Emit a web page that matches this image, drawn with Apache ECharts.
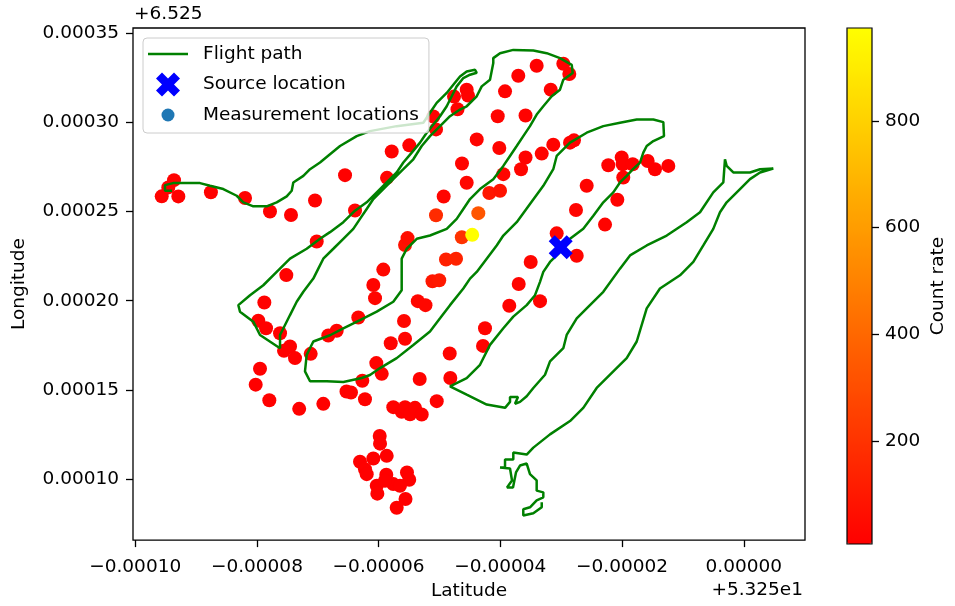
<!DOCTYPE html>
<html>
<head>
<meta charset="utf-8">
<script src="https://cdn.jsdelivr.net/npm/echarts@6/dist/echarts.min.js"></script>
<style>
  html, body { margin: 0; padding: 0; background: #ffffff; }
  #chart { width: 955px; height: 606px; }
</style>
</head>
<body>
<div id="chart"></div>
<script>
// Coordinates are stored in micro-degrees relative to the axis offsets
// (latitude 53.25, longitude 6.525), and converted to degrees below.
const LAT_OFFSET_TEXT = '+5.325e1';
const LON_OFFSET_TEXT = '+6.525';
const MICRO = 1e-6;

// Measurement locations
const measLat = [
  -95.64, -92.91, -93.62, -94.56, -87.56, -81.95, -77.85, -74.40, -70.45, -65.52,
  -70.17, -75.17, -63.88, -58.62, -57.85, -54.96, -50.57, -51.01, -47.04, -47.61,
  -45.53, -45.31, -46.30, -45.53, -49.31, -43.88, -50.57, -46.33, -44.62, -43.62,
  -55.66, -55.25, -59.23, -60.87, -48.93, -47.28, -51.15, -50.04, -37.05, -39.23,
  -40.43, -35.86, -40.17, -35.86, -36.60, -39.51, -41.81, -40.05, -36.98, -35.01,
  -34.03, -29.65, -28.67, -31.72, -33.20, -31.30, -28.55, -27.90, -22.26, -20.06,
  -19.89, -18.25, -15.79, -14.59, -12.40, -19.80, -25.81, -20.78, -27.57, -22.80,
  -30.74, -27.45, -33.48, -38.53, -42.52, -42.85, -48.32, -48.22, -53.25, -50.45,
  -78.78, -79.77, -78.50, -76.20, -74.56, -75.55, -73.74, -71.16, -79.49, -80.20,
  -77.96, -73.05, -69.09, -68.27, -66.89, -63.34, -60.59, -55.83, -53.56, -52.30,
  -58.01, -55.66, -60.38, -59.49, -62.68, -65.28, -64.54, -62.24, -57.59, -56.21,
  -55.66, -54.84, -54.02, -52.92, -59.82, -59.77, -60.87, -58.67, -63.06, -62.24,
  -61.96, -58.74, -55.34, -54.97, -60.31, -60.21, -57.59, -56.49, -55.58, -57.03,
  -58.95
];
const measLon = [
  258.54, 258.50, 267.63, 263.56, 260.82, 257.59, 250.06, 248.11, 256.20, 270.41,
  233.23, 214.38, 250.62, 268.91, 283.68, 287.14, 296.06, 303.31, 307.38, 314.46,
  318.36, 315.02, 276.94, 266.12, 258.43, 290.48, 247.94, 235.57, 236.96, 249.12,
  231.22, 235.12, 217.45, 208.80, 223.13, 223.58, 210.92, 211.48, 326.17, 317.41,
  303.48, 303.87, 285.63, 280.28, 273.76, 270.97, 260.38, 261.66, 209.36, 221.74,
  331.74, 332.86, 327.11, 318.36, 282.51, 287.53, 288.64, 289.93, 275.99, 280.28,
  276.55, 276.55, 278.39, 273.76, 275.60, 269.13, 264.45, 256.64, 250.90, 242.70,
  237.80, 225.25, 199.78, 197.21, 184.55, 174.68, 170.45, 156.67, 156.12, 143.69,
  199.05, 188.84, 184.55, 181.76, 174.35, 171.90, 167.83, 170.22, 161.86, 152.94,
  144.24, 139.39, 142.18, 180.48, 183.16, 190.57, 201.45, 188.62, 199.78, 197.54,
  176.19, 178.70, 165.04, 159.02, 155.17, 149.15, 148.59, 144.80, 140.34, 137.72,
  140.34, 136.32, 139.95, 136.21, 124.17, 119.88, 111.51, 113.02, 109.73, 105.55,
  102.76, 102.43, 103.71, 99.64, 96.29, 91.83, 97.19, 96.29, 88.82, 83.92,
  99.08
];
const countRate = [
  14, 11, 16, 12, 9, 13, 10, 8, 15, 12,
  18, 14, 22, 17, 13, 11, 19, 16, 14, 12,
  10, 13, 24, 28, 26, 21, 170, 200, 974, 330,
  70, 60, 35, 22, 130, 140, 90, 100, 12, 15,
  18, 16, 23, 20, 25, 27, 90, 80, 24, 30,
  9, 11, 10, 13, 21, 17, 15, 14, 12, 10,
  11, 9, 8, 7, 8, 13, 18, 16, 22, 19,
  26, 23, 17, 20, 22, 18, 21, 17, 15, 13,
  12, 10, 11, 13, 12, 14, 11, 16, 9, 8,
  10, 9, 11, 18, 17, 24, 26, 29, 31, 33,
  22, 25, 19, 20, 16, 14, 15, 13, 14, 12,
  15, 13, 16, 12, 11, 10, 9, 12, 8, 9,
  10, 11, 9, 10, 8, 9, 11, 10, 8, 9,
  10
];

// Flight path
const pathLat = [
  -93.95, -95.10, -95.10, -93.78, -92.14, -89.35, -87.70, -85.52, -83.32, -82.23,
  -80.59, -78.39, -76.75, -75.10, -74.28, -74.02, -72.37, -71.27, -69.63, -67.99,
  -66.34, -63.60, -61.42, -57.03, -52.66, -51.56, -50.46, -48.81, -47.73, -46.63,
  -45.53, -44.16, -43.88, -44.98, -46.08, -47.17, -47.99, -48.81, -49.91, -51.01,
  -52.10, -53.20, -54.56, -55.94, -57.03, -58.67, -60.31, -61.96, -63.88, -65.80,
  -67.99, -69.63, -71.82, -74.56, -76.75, -78.95, -81.13, -83.05, -82.78, -80.59,
  -79.49, -76.20, -76.20, -75.38, -74.56, -73.46, -72.37, -70.73, -69.91, -69.09,
  -67.44, -65.80, -64.16, -63.06, -61.96, -60.87, -59.23, -57.59, -55.94, -54.30,
  -52.92, -51.56, -49.91, -48.27, -46.63, -45.53, -43.88, -43.06, -41.70, -41.16,
  -41.16, -40.05, -37.87, -34.58, -32.38, -30.20, -28.27, -28.11, -29.65, -30.20,
  -31.56, -32.94, -34.03, -35.13, -36.23, -37.31, -38.41, -39.51, -41.16, -43.34,
  -44.98, -46.08, -47.17, -48.81, -51.56, -53.74, -55.38, -56.21, -56.21, -57.59,
  -60.31, -63.06, -65.80, -67.99, -70.73, -71.82, -72.10, -71.27, -68.53, -65.80,
  -62.78, -61.42, -59.77, -57.03, -54.30, -51.56, -49.91, -48.27, -46.08, -44.98,
  -43.88, -42.24, -40.60, -39.51, -37.31, -35.13, -32.94, -31.30, -30.74, -28.55,
  -25.81, -23.08, -20.34, -17.59, -14.86, -13.22, -13.11, -14.86, -15.95, -16.51,
  -17.05, -18.20, -19.24, -20.34, -21.44, -23.08, -24.72, -26.37, -28.55, -30.20,
  -31.84, -32.94, -33.48, -34.30, -35.67, -37.87, -39.51, -41.70, -43.34, -45.53,
  -48.27, -45.53, -42.24, -39.23, -38.41, -38.41, -37.10, -37.59, -36.77, -35.67,
  -34.58, -32.66, -31.84, -29.65, -29.10, -27.45, -25.81, -23.08, -20.34, -18.69,
  -15.95, -12.66, -9.38, -7.19, -5.01, -3.36, -3.09, -2.81, -1.72, 1.02,
  2.67, 4.85, 2.67, 1.02, -0.62, -2.81, -3.91, -5.01, -6.65, -8.29,
  -10.48, -13.77, -15.95, -17.59, -19.24, -21.44, -24.17, -26.37, -28.55, -31.84,
  -34.58, -35.67, -37.87, -37.87, -39.23, -39.23, -40.05, -38.41, -38.08, -38.90,
  -37.92, -37.43, -36.77, -35.67, -35.13, -34.03, -34.03, -32.94, -32.94, -34.03,
  -35.13, -36.23, -36.23, -34.58, -33.20, -33.20
];
const pathLon = [
  261.66, 261.66, 264.84, 265.95, 265.95, 265.95, 264.45, 262.61, 258.87, 255.19,
  252.96, 252.96, 255.19, 258.54, 261.66, 266.34, 270.02, 273.76, 277.49, 282.12,
  286.75, 292.32, 295.11, 297.90, 299.80, 305.37, 310.95, 316.52, 321.15, 325.78,
  328.56, 329.51, 327.84, 326.72, 324.88, 320.20, 314.63, 309.05, 303.48, 298.85,
  294.22, 288.64, 283.07, 277.49, 271.92, 266.34, 260.77, 255.19, 250.51, 244.04,
  238.47, 234.73, 229.15, 223.58, 216.16, 208.69, 203.12, 197.54, 193.86, 188.29,
  180.82, 173.40, 180.82, 186.39, 191.97, 199.44, 205.01, 212.43, 218.00, 223.58,
  229.15, 234.73, 240.31, 245.88, 251.46, 257.03, 262.61, 268.18, 273.76, 279.33,
  286.75, 292.32, 297.90, 303.48, 307.21, 309.05, 314.63, 320.20, 323.94, 333.25,
  336.04, 338.82, 340.66, 340.27, 338.82, 336.04, 332.30, 327.67, 323.94, 318.36,
  314.63, 309.05, 304.42, 297.90, 292.32, 286.75, 281.17, 275.60, 268.18, 262.61,
  257.03, 251.46, 245.88, 240.31, 236.57, 234.73, 229.15, 223.58, 205.91, 199.44,
  193.86, 189.18, 184.55, 180.65, 177.14, 169.67, 160.41, 154.84, 154.84, 154.44,
  156.67, 158.35, 162.25, 167.83, 175.24, 182.71, 190.13, 197.54, 206.85, 212.43,
  216.16, 223.58, 231.00, 236.57, 244.04, 254.24, 264.45, 273.76, 281.17, 288.64,
  294.22, 297.90, 299.80, 301.64, 301.64, 300.13, 292.32, 289.54, 286.75, 283.07,
  277.49, 273.76, 270.02, 266.34, 260.77, 255.19, 247.72, 240.31, 234.73, 227.32,
  221.74, 216.16, 210.59, 203.12, 197.54, 191.07, 184.55, 175.24, 164.09, 156.67,
  152.05, 147.36, 141.79, 139.95, 143.29, 146.08, 146.08, 142.18, 143.29, 146.47,
  151.10, 158.52, 165.98, 173.40, 180.82, 190.13, 195.70, 205.01, 218.00, 225.42,
  231.00, 236.57, 244.04, 249.62, 260.77, 266.34, 279.33, 275.60, 271.92, 271.92,
  273.76, 274.15, 271.92, 268.18, 262.61, 255.19, 249.62, 240.31, 231.00, 221.74,
  214.27, 206.85, 195.70, 177.14, 167.83, 160.41, 151.10, 139.95, 132.53, 125.06,
  117.65, 113.74, 114.86, 110.96, 110.96, 106.50, 106.50, 105.94, 99.25, 95.35,
  95.35, 103.71, 107.61, 108.73, 102.76, 99.25, 93.51, 92.56, 89.77, 88.10,
  84.19, 83.08, 79.57, 80.85, 84.19, 86.98
];

// Source location
const sourceLat = [-30.08];
const sourceLon = [229.99];

// Tick positions
const latTicks = [-100, -80, -60, -40, -20, 0];
const lonTicks = [100, 150, 200, 250, 300, 350];
const rateTicks = [200, 400, 600, 800];

// Visible axis extents (micro-degrees)
const latRange = [-100.36, 10.06];
const lonRange = [65.79, 352.93];

const FONT = 'DejaVu Sans';
const FS = 18.5;
const toDeg = v => v * MICRO;
const tickText = v => v.toFixed(5).replace('-', '\u2212');

const measData = measLat.map((v, i) => [toDeg(v), toDeg(measLon[i]), countRate[i]]);
const pathData = pathLat.map((v, i) => [toDeg(v), toDeg(pathLon[i])]);
const sourceData = sourceLat.map((v, i) => [toDeg(v), toDeg(sourceLon[i])]);
const rateMin = Math.min(...countRate);
const rateMax = Math.max(...countRate);

// Legend / marker glyphs
const X_MARK = 'path://M-1,-2L0,-1L1,-2L2,-1L1,0L2,1L1,2L0,1L-1,2L-2,1L-1,0L-2,-1Z';
const DOT_MARK = 'path://M0,0M24,24M18.5,12A6.5,6.5,0,1,1,5.5,12A6.5,6.5,0,1,1,18.5,12Z';
const LINE_MARK = 'path://M0,0M40,24M0,10.7L40,10.7L40,13.3L0,13.3Z';

const chart = echarts.init(document.getElementById('chart'), null, { renderer: 'canvas' });

const axisCommon = {
  axisLine: { show: false, onZero: false },
  splitLine: { show: false }
};

chart.setOption({
  animation: false,
  backgroundColor: '#ffffff',
  textStyle: { fontFamily: FONT },
  grid: [
    { left: 133, top: 28, width: 672, height: 515, show: true,
      borderColor: '#000000', borderWidth: 1.3, backgroundColor: 'transparent' },
    { left: 847, top: 28, width: 25, height: 516, show: false }
  ],
  xAxis: [
    Object.assign({
      type: 'value', gridIndex: 0,
      min: toDeg(latRange[0]), max: toDeg(latRange[1]),
      name: 'Latitude', nameLocation: 'middle', nameGap: 40,
      nameTextStyle: { fontFamily: FONT, fontSize: FS, color: '#000' },
      axisTick: { show: true, inside: false, length: 7,
        customValues: latTicks.map(toDeg),
        lineStyle: { color: '#000', width: 1.3 } },
      axisLabel: { customValues: latTicks.map(toDeg), formatter: tickText,
        fontFamily: FONT, fontSize: FS, color: '#000', margin: 18 }
    }, axisCommon),
    Object.assign({ type: 'value', gridIndex: 1, show: false, min: 0, max: 1 }, axisCommon)
  ],
  yAxis: [
    Object.assign({
      type: 'value', gridIndex: 0,
      min: toDeg(lonRange[0]), max: toDeg(lonRange[1]),
      name: 'Longitude', nameLocation: 'middle', nameGap: 104, nameRotate: 90,
      nameTextStyle: { fontFamily: FONT, fontSize: FS, color: '#000' },
      axisTick: { show: true, inside: false, length: 7,
        customValues: lonTicks.map(toDeg),
        lineStyle: { color: '#000', width: 1.3 } },
      axisLabel: { customValues: lonTicks.map(toDeg), formatter: tickText,
        fontFamily: FONT, fontSize: FS, color: '#000', margin: 14 }
    }, axisCommon),
    Object.assign({
      type: 'value', gridIndex: 1, position: 'right',
      min: rateMin, max: rateMax,
      name: 'Count rate', nameLocation: 'middle', nameGap: 57, nameRotate: 90,
      nameTextStyle: { fontFamily: FONT, fontSize: FS, color: '#000' },
      axisTick: { show: true, inside: false, length: 7, customValues: rateTicks,
        lineStyle: { color: '#000', width: 1.3 } },
      axisLabel: { customValues: rateTicks, fontFamily: FONT, fontSize: FS,
        color: '#000', margin: 13 },
      z: 12
    }, axisCommon)
  ],
  visualMap: {
    type: 'continuous',
    seriesIndex: 2,
    dimension: 2,
    min: rateMin, max: rateMax,
    inRange: { color: ['#ff0000', '#ffff00'] },
    calculable: false,
    left: 847, top: 28,
    itemWidth: 25, itemHeight: 516,
    padding: 0,
    hoverLink: false
  },
  legend: {
    orient: 'vertical',
    left: 143, top: 38,
    padding: [4, 10, 6, 5],
    itemWidth: 40, itemHeight: 24, itemGap: 6.5,
    backgroundColor: 'rgba(255,255,255,0.8)',
    borderColor: '#cccccc', borderWidth: 1, borderRadius: 4,
    selectedMode: false,
    textStyle: { fontFamily: FONT, fontSize: FS, color: '#000', padding: [0, 0, 0, 10] },
    data: [
      { name: 'Flight path', icon: LINE_MARK, itemStyle: { color: '#008000' } },
      { name: 'Source location', icon: X_MARK, itemStyle: { color: '#0000ff' } },
      { name: 'Measurement locations', icon: DOT_MARK, itemStyle: { color: '#1f77b4' } }
    ]
  },
  graphic: [
    { type: 'text', left: 134, top: 5,
      style: { text: LON_OFFSET_TEXT, font: FS + 'px "' + FONT + '"', fill: '#000' } },
    { type: 'text', right: 152, top: 581,
      style: { text: LAT_OFFSET_TEXT, font: FS + 'px "' + FONT + '"', fill: '#000' } },
    { type: 'rect', shape: { x: 847, y: 28, width: 25, height: 516 },
      style: { fill: null, stroke: '#000', lineWidth: 1.2 }, z: 10 }
  ],
  series: [
    {
      name: 'Flight path', type: 'line',
      xAxisIndex: 0, yAxisIndex: 0,
      data: pathData,
      symbol: 'none', showSymbol: false,
      lineStyle: { color: '#008000', width: 2.5 },
      itemStyle: { color: '#008000' },
      z: 3
    },
    {
      name: 'Source location', type: 'scatter',
      xAxisIndex: 0, yAxisIndex: 0,
      data: sourceData,
      symbol: X_MARK, symbolSize: 24,
      itemStyle: { color: '#0000ff', opacity: 1 },
      z: 4
    },
    {
      name: 'Measurement locations', type: 'scatter',
      xAxisIndex: 0, yAxisIndex: 0,
      data: measData,
      symbol: 'circle', symbolSize: 14,
      itemStyle: { color: '#1f77b4', opacity: 1 },
      z: 2
    }
  ]
});
</script>
</body>
</html>
